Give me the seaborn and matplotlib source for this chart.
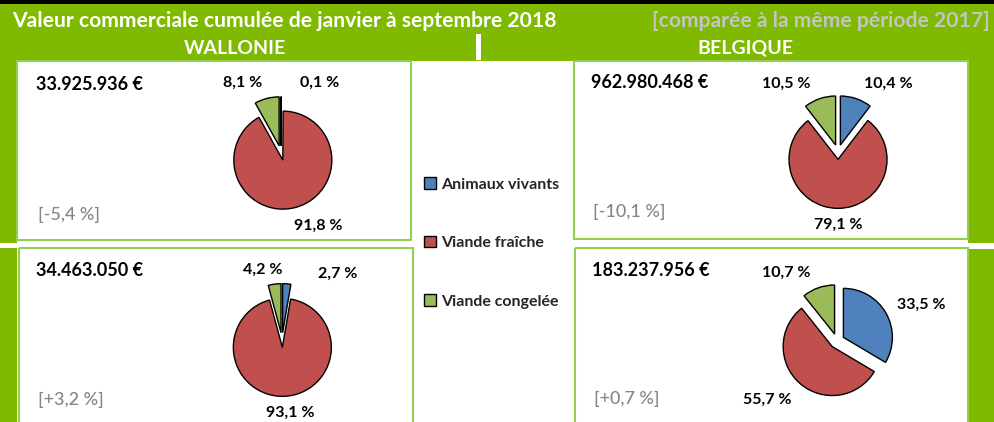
import numpy as np
import seaborn as sns
import matplotlib.pyplot as plt
from matplotlib.patches import Rectangle, Patch

# --------------------------------------------------------------------------- #
# Data                                                                        #
# --------------------------------------------------------------------------- #
categories = ["Animaux vivants", "Viande fraîche", "Viande congelée"]
colors = ["#4f81bd", "#c0504d", "#9bbb59"]

wallonie_top = [0.1, 91.8, 8.1]
belgique_top = [10.4, 79.1, 10.5]
wallonie_bottom = [2.7, 93.1, 4.2]
belgique_bottom = [33.5, 55.7, 10.7]

totals = ["33.925.936 €", "962.980.468 €", "34.463.050 €", "183.237.956 €"]
changes = ["[-5,4 %]", "[-10,1 %]", "[+3,2 %]", "[+0,7 %]"]

title = "Valeur commerciale cumulée de janvier à septembre 2018"
subtitle = "[comparée à la même période 2017]"
regions = ["WALLONIE", "BELGIQUE"]

# --------------------------------------------------------------------------- #
# Layout (pixel coordinates, y downwards)                                     #
# --------------------------------------------------------------------------- #
W, H = 995, 422
GREEN = "#7fba00"
BORDER = "#92d050"

panels = [
    # values, pie centre, text x, total y, change y, label offsets (in radii)
    dict(values=wallonie_top, centre=(281, 153), tx=36, ty=84, cy=215,
         labels=[(0.78, 1.43), (0.76, -1.49), (-0.78, 1.43)]),
    dict(values=belgique_top, centre=(838, 152), tx=591, ty=82, cy=212,
         labels=[(1.02, 1.39), (0.0, -1.49), (-1.06, 1.39)]),
    dict(values=wallonie_bottom, centre=(282, 340), tx=36, ty=270, cy=400,
         labels=[(1.14, 1.35), (0.16, -1.49), (-0.39, 1.43)]),
    dict(values=belgique_bottom, centre=(837, 341), tx=592, ty=270, cy=399,
         labels=[(1.71, 0.73), (-1.43, -1.20), (-1.04, 1.39)]),
]

sns.set_theme(style="white")
plt.rcParams['font.family'] = ['Lato', 'DejaVu Sans']

fig = plt.figure(figsize=(W / 100, H / 100), dpi=100, facecolor=GREEN)

bg = fig.add_axes([0, 0, 1, 1])
bg.set_xlim(0, W)
bg.set_ylim(H, 0)
bg.axis("off")

# background blocks
bg.add_patch(Rectangle((0, 0), W, 4, color="black", lw=0))
bg.add_patch(Rectangle((17, 61), 951, H - 61 + 2, color="white", lw=0))
bg.add_patch(Rectangle((0, 243), 17, 5, color="white", lw=0))
bg.add_patch(Rectangle((968, 243), W - 968, 6, color="white", lw=0))
bg.add_patch(Rectangle((476, 34), 5, 26, color="white", lw=0))

# panel frames
for x, y, w, h in [(17, 61, 394, 179), (574, 61, 394, 178),
                   (19, 248, 394, 180), (575, 248, 393, 180)]:
    bg.add_patch(Rectangle((x, y), w, h, fill=False, edgecolor=BORDER, lw=1.5))

# headers
bg.text(12, 21, title, color="white", fontsize=15.2, fontweight="bold",
        ha="left", va="center")
bg.text(990, 21, subtitle, color="#c4c4c4", fontsize=15.2, fontweight="bold",
        ha="right", va="center")
bg.text(235, 48, regions[0], color="white", fontsize=14, fontweight="bold",
        ha="center", va="center")
bg.text(745, 48, regions[1], color="white", fontsize=14, fontweight="bold",
        ha="center", va="center")

# --------------------------------------------------------------------------- #
# Pies                                                                        #
# --------------------------------------------------------------------------- #
R_PX = 49
BOX = 220
lim = BOX / 2 / R_PX

for i, p in enumerate(panels):
    cx, cy = p["centre"]
    ax = fig.add_axes([(cx - BOX / 2) / W, (H - cy - BOX / 2) / H, BOX / W, BOX / H])
    ax.pie(p["values"], colors=colors, startangle=90, counterclock=False,
           explode=[0.15] * len(p["values"]), radius=1,
           wedgeprops=dict(edgecolor="black", linewidth=1.0))
    ax.set_xlim(-lim, lim)
    ax.set_ylim(-lim, lim)
    ax.set_aspect("equal")
    ax.axis("off")
    for v, (lx, ly) in zip(p["values"], p["labels"]):
        ax.text(lx, ly, f"{v:.1f}".replace(".", ",") + " %", fontsize=11.5,
                fontweight="bold", color="black", ha="center", va="center")

    bg.text(p["tx"], p["ty"], totals[i], fontsize=13, fontweight="bold",
            color="black", ha="left", va="center")
    bg.text(p["tx"] + 2, p["cy"], changes[i], fontsize=13, fontweight="medium",
            color="#858585", ha="left", va="center")

# --------------------------------------------------------------------------- #
# Legend                                                                      #
# --------------------------------------------------------------------------- #
handles = [Patch(facecolor=c, edgecolor="black", lw=1.0) for c in colors]
leg = fig.legend(handles, categories, loc="center left",
                 bbox_to_anchor=(416 / W, 1 - 243 / H), frameon=False,
                 handlelength=0.75, handleheight=0.75, handletextpad=0.3,
                 labelspacing=2.75, borderpad=0,
                 prop=dict(family=['Lato', 'DejaVu Sans'], weight="bold", size=11.5))

fig.savefig("out.png", dpi=100, facecolor=GREEN)
